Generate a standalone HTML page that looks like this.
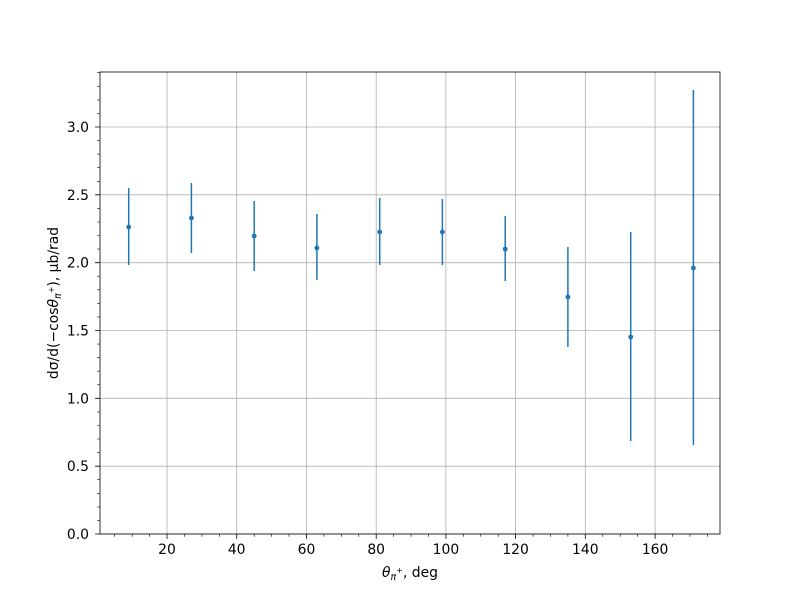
<!DOCTYPE html>
<html><head><meta charset="utf-8"><style>body{margin:0;background:#fff}svg{display:block}text{font-family:"DejaVu Sans","Liberation Sans",sans-serif;font-size:13.9px;fill:#000}</style></head><body>
<svg width="800" height="600" viewBox="0 0 800 600">
<g stroke="#b0b0b0" stroke-width="0.8">
<path d="M167 72V534M236.7 72V534M306.5 72V534M376.2 72V534M445.9 72V534M515.6 72V534M585.3 72V534M655.1 72V534"/>
<path d="M100 534H720M100 466.2H720M100 398.3H720M100 330.5H720M100 262.7H720M100 194.8H720M100 127H720"/>
</g>
<g stroke="#000" stroke-width="0.8">
<path d="M167 534v4.9M236.7 534v4.9M306.5 534v4.9M376.2 534v4.9M445.9 534v4.9M515.6 534v4.9M585.3 534v4.9M655.1 534v4.9"/>
<path d="M100 534h-4.9M100 466.2h-4.9M100 398.3h-4.9M100 330.5h-4.9M100 262.7h-4.9M100 194.8h-4.9M100 127h-4.9"/>
<path stroke-width="0.6" d="M114.7 534v2.8M132.2 534v2.8M149.6 534v2.8M184.4 534v2.8M201.9 534v2.8M219.3 534v2.8M254.2 534v2.8M271.6 534v2.8M289 534v2.8M323.9 534v2.8M341.3 534v2.8M358.8 534v2.8M393.6 534v2.8M411.1 534v2.8M428.5 534v2.8M463.3 534v2.8M480.8 534v2.8M498.2 534v2.8M533.1 534v2.8M550.5 534v2.8M567.9 534v2.8M602.8 534v2.8M620.2 534v2.8M637.7 534v2.8M672.5 534v2.8M689.9 534v2.8M707.4 534v2.8"/>
<path stroke-width="0.6" d="M100 520.4h-2.8M100 506.9h-2.8M100 493.3h-2.8M100 479.7h-2.8M100 452.6h-2.8M100 439h-2.8M100 425.5h-2.8M100 411.9h-2.8M100 384.8h-2.8M100 371.2h-2.8M100 357.6h-2.8M100 344.1h-2.8M100 316.9h-2.8M100 303.4h-2.8M100 289.8h-2.8M100 276.2h-2.8M100 249.1h-2.8M100 235.5h-2.8M100 222h-2.8M100 208.4h-2.8M100 181.3h-2.8M100 167.7h-2.8M100 154.1h-2.8M100 140.6h-2.8M100 113.4h-2.8M100 99.9h-2.8M100 86.3h-2.8M100 72.7h-2.8"/>
<rect x="100" y="72" width="620" height="462" fill="none"/>
</g>
<g stroke="#1f77b4" stroke-width="1.5">
<path d="M128.7 188V265M191.4 183V253M254.2 201V271M316.9 214V280M379.7 198V265M442.4 199V265M505.2 216V281M567.9 247V347M630.7 232V441M693.4 90V445"/>
</g>
<g fill="#1f77b4">
<circle cx="128.7" cy="227" r="2.4"/><circle cx="191.4" cy="218" r="2.4"/><circle cx="254.2" cy="236" r="2.4"/><circle cx="316.9" cy="248" r="2.4"/><circle cx="379.7" cy="232" r="2.4"/><circle cx="442.4" cy="232" r="2.4"/><circle cx="505.2" cy="249" r="2.4"/><circle cx="567.9" cy="297" r="2.4"/><circle cx="630.7" cy="337" r="2.4"/><circle cx="693.4" cy="268" r="2.4"/>
</g>
<g text-anchor="middle">
<text x="167" y="554">20</text><text x="236.7" y="554">40</text><text x="306.5" y="554">60</text><text x="376.2" y="554">80</text><text x="445.9" y="554">100</text><text x="515.6" y="554">120</text><text x="585.3" y="554">140</text><text x="655.1" y="554">160</text>
</g>
<g text-anchor="end">
<text x="89" y="539">0.0</text><text x="89" y="471.2">0.5</text><text x="89" y="403.3">1.0</text><text x="89" y="335.5">1.5</text><text x="89" y="267.7">2.0</text><text x="89" y="199.8">2.5</text><text x="89" y="132">3.0</text>
</g>
<text x="410" y="577" text-anchor="middle"><tspan font-style="italic">θ</tspan><tspan font-size="9.5" dy="3" font-style="italic">π</tspan><tspan font-size="8" dy="-7">+</tspan><tspan dy="4">, deg</tspan></text>
<text transform="translate(58 303) rotate(-90)" text-anchor="middle">dσ/d(−cos<tspan font-style="italic">θ</tspan><tspan font-size="9.5" dy="3" font-style="italic">π</tspan><tspan font-size="8" dy="-7">+</tspan><tspan dy="4">), μb/rad</tspan></text>
</svg>
</body></html>
